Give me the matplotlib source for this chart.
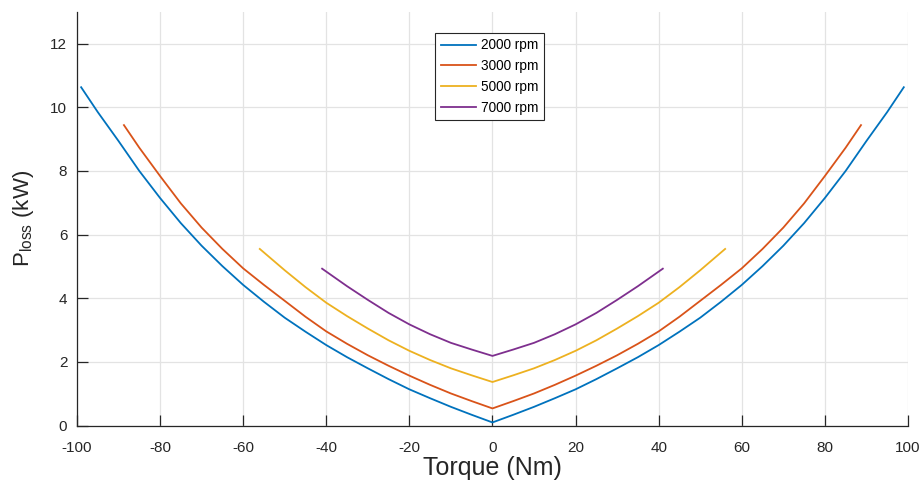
import numpy as np
import matplotlib
matplotlib.use('Agg')
import matplotlib.pyplot as plt

plt.rcParams['font.family'] = ['Liberation Sans', 'DejaVu Sans']
plt.rcParams['mathtext.fontset'] = 'custom'
plt.rcParams['mathtext.rm'] = 'Liberation Sans'
plt.rcParams['axes.unicode_minus'] = False

# torque (Nm) and loss (kW), one half mirrored
t_2000 = [0, 5, 10, 15, 20, 25, 30, 35, 40, 45, 50, 55, 60, 65, 70, 75, 80, 85, 90, 95, 99]
p_2000 = [0.10, 0.34, 0.59, 0.86, 1.14, 1.46, 1.80, 2.15, 2.53, 2.95, 3.39, 3.89,
          4.42, 5.01, 5.65, 6.36, 7.15, 8.00, 8.94, 9.85, 10.63]

t_3000 = [0, 5, 10, 15, 20, 25, 30, 35, 40, 45, 50, 55, 60, 65, 70, 75, 80, 85, 88.7]
p_3000 = [0.54, 0.77, 1.01, 1.28, 1.57, 1.88, 2.21, 2.57, 2.96, 3.42, 3.92, 4.42,
          4.94, 5.55, 6.22, 6.98, 7.84, 8.73, 9.44]

t_5000 = [0, 5, 10, 15, 20, 25, 30, 35, 40, 45, 50, 56]
p_5000 = [1.37, 1.58, 1.80, 2.06, 2.35, 2.68, 3.05, 3.44, 3.86, 4.35, 4.88, 5.55]

t_7000 = [0, 5, 10, 15, 20, 25, 30, 35, 41]
p_7000 = [2.19, 2.39, 2.60, 2.87, 3.18, 3.54, 3.95, 4.38, 4.93]

labels = ['2000 rpm', '3000 rpm', '5000 rpm', '7000 rpm']
colors = ['#0072BD', '#D95319', '#EDB120', '#7E2F8E']
series = [(t_2000, p_2000), (t_3000, p_3000), (t_5000, p_5000), (t_7000, p_7000)]

fig = plt.figure(figsize=(9.23, 4.83), dpi=100)
ax = fig.add_axes([0.0834, 0.1188, 0.9003, 0.8568])

for (t, p), label, c in zip(series, labels, colors):
    t = np.asarray(t, dtype=float)
    p = np.asarray(p, dtype=float)
    x = np.concatenate([-t[::-1], t[1:]])
    y = np.concatenate([p[::-1], p[1:]])
    ax.plot(x, y, color=c, lw=1.3, label=label)

ax.set_xlim(-100, 100)
ax.set_ylim(0, 13)
ax.set_xticks(np.arange(-100, 101, 20))
ax.set_yticks(np.arange(0, 13, 2))
ax.grid(True, color='#e3e3e3', lw=0.9)
ax.set_axisbelow(True)
for s in ['top', 'right']:
    ax.spines[s].set_visible(False)
for s in ['left', 'bottom']:
    ax.spines[s].set_color('#262626')
    ax.spines[s].set_linewidth(0.9)
ax.tick_params(direction='in', length=8, width=0.9, color='#262626',
               labelsize=11, labelcolor='#262626')
ax.tick_params(axis='x', pad=11)
ax.tick_params(axis='y', pad=7)

ax.set_xlabel('Torque (Nm)', fontsize=18, color='#262626', labelpad=1)
ax.set_ylabel(r'P$_{\mathrm{loss}}$ (kW)', fontsize=16, color='#262626', labelpad=10)

leg = ax.legend(loc='upper left', bbox_to_anchor=(0.431, 0.949), borderaxespad=0,
                fontsize=9.8, fancybox=False, framealpha=1, edgecolor='#262626',
                handlelength=2.6, labelspacing=0.5, borderpad=0.4, handletextpad=0.4)
leg.get_frame().set_linewidth(0.8)

fig.savefig('out.png', dpi=100)
